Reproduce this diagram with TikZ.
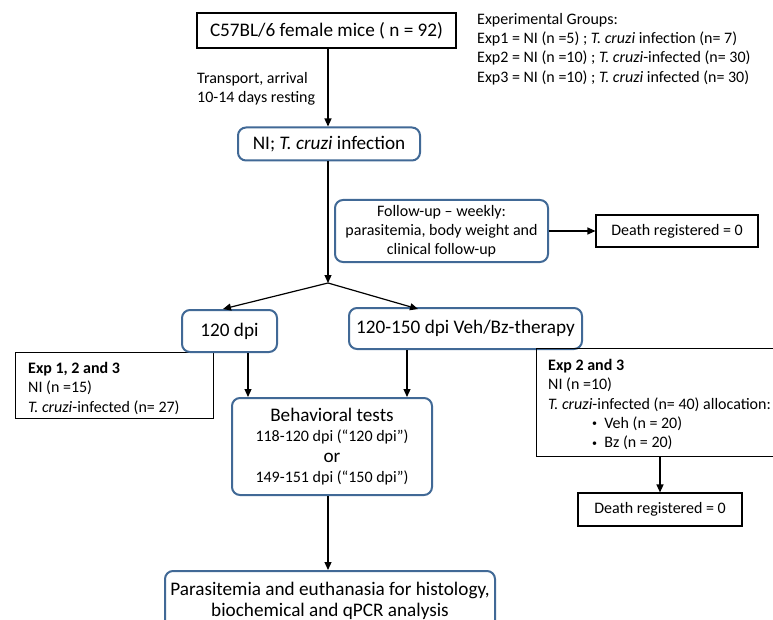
\documentclass[tikz,border=0pt]{standalone}
\usepackage{fontspec}
\setmainfont{Carlito}
\usetikzlibrary{arrows.meta}
\definecolor{bblue}{RGB}{65,105,150}
\newcommand{\smbul}{\raisebox{1.5pt}{\fontsize{10}{10}\selectfont\textbullet}}
\tikzset{
  sq/.style={draw=black, line width=1.1pt, inner sep=0pt, align=center},
  rb/.style={draw=bblue, line width=2pt, rounded corners=8pt, inner sep=0pt, align=center, fill=white},
  arr/.style={line width=1.2pt, -{Triangle[length=8pt,width=7pt]}},
  txt/.style={anchor=north west, align=left, inner sep=0pt},
  fs/.style={font=\fontsize{16}{19.3}\selectfont},
  fm/.style={font=\fontsize{16}{19}\selectfont},
  fl/.style={font=\fontsize{19.2}{21}\selectfont},
}
\begin{document}
\begin{tikzpicture}[x=1pt,y=-1pt]
\useasboundingbox (0,0) rectangle (773,620);
\begin{scope}
\clip (0,0) rectangle (773,620);
\node[sq, fl, minimum width=259pt, minimum height=35pt] (top) at (326.5,30.5) {C57BL/6 female mice ( n = 92)};
\node[fs, txt] (trans) at (197,72) {Transport, arrival\\10-14 days resting};
\node[fs, txt] (groups) at (477,13) {Experimental Groups:\\Exp1 = NI (n =5) ; \textit{T. cruzi} infection (n= 7)\\Exp2 = NI (n =10) ; \textit{T. cruzi}-infected (n= 30)\\Exp3 = NI (n =10) ; \textit{T. cruzi} infected (n= 30)};
\node[rb, fl, minimum width=182pt, minimum height=33pt] (ni) at (329,144) {NI; \textit{T. cruzi} infection};
\node[rb, fm, minimum width=213pt, minimum height=62pt] (follow) at (441.5,231) {Follow-up -- weekly:\\parasitemia, body weight and\\clinical follow-up};
\node[sq, fm, minimum width=162pt, minimum height=32pt] (death1) at (677,231) {Death registered = 0};
\node[sq, minimum width=198pt, minimum height=66pt, anchor=north west] (exp1) at (15,352) {};
\node[fs, txt] (exp1t) at (28,362) {\textbf{Exp 1, 2 and 3}\\NI (n =15)\\\textit{T. cruzi}-infected (n= 27)};
\node[rb, fl, minimum width=95pt, minimum height=42pt] (d120) at (229.5,331) {120 dpi};
\node[rb, fl, minimum width=233pt, minimum height=41pt] (d150) at (465.5,328.5) {120-150 dpi Veh/Bz-therapy};
\node[sq, minimum width=242pt, minimum height=108pt, anchor=north west] (exp2) at (536,348) {};
\node[fs, txt] (exp2t) at (548,359) {\textbf{Exp 2 and 3}\\NI (n =10)\\\textit{T. cruzi}-infected (n= 40) allocation:\\\hspace*{44pt}\smbul\ \ Veh (n = 20)\\\hspace*{44pt}\smbul\ \ Bz (n = 20)};
\node[sq, fm, minimum width=164pt, minimum height=33pt] (death2) at (660,509.5) {Death registered = 0};
\node[rb, minimum width=200pt, minimum height=97pt, font=\fontsize{16}{20.5}\selectfont] (beh) at (332,446.5) {{\fontsize{19.2}{20.5}\selectfont Behavioral tests}\\118-120 dpi (“120 dpi”)\\{\fontsize{19.2}{20.5}\selectfont or}\\149-151 dpi (“150 dpi”)};
\node[rb, fl, minimum width=330pt, minimum height=60pt, anchor=north] (final) at (330,570) {Parasitemia and euthanasia for histology,\\biochemical and qPCR analysis};
\end{scope}
\coordinate (J) at (328,283);
\coordinate (t120) at (223,309);
\coordinate (t150) at (418,309);
\draw[arr] (top.south -| 328,0) -- (ni.north -| 328,0);
\draw[arr] (ni.south -| J) -- (J);
\draw[arr] (J) -- (t120);
\draw[arr] (J) -- (t150);
\draw[arr] (follow.east) -- (death1.west);
\draw[arr] (d120.south -| 248,0) -- (beh.north -| 248,0);
\draw[arr] (d150.south -| 407,0) -- (beh.north -| 407,0);
\draw[arr] (beh.south -| 328,0) -- (final.north -| 328,0);
\draw[arr] (exp2.south -| death2.north) -- (death2.north);
\end{tikzpicture}
\end{document}
